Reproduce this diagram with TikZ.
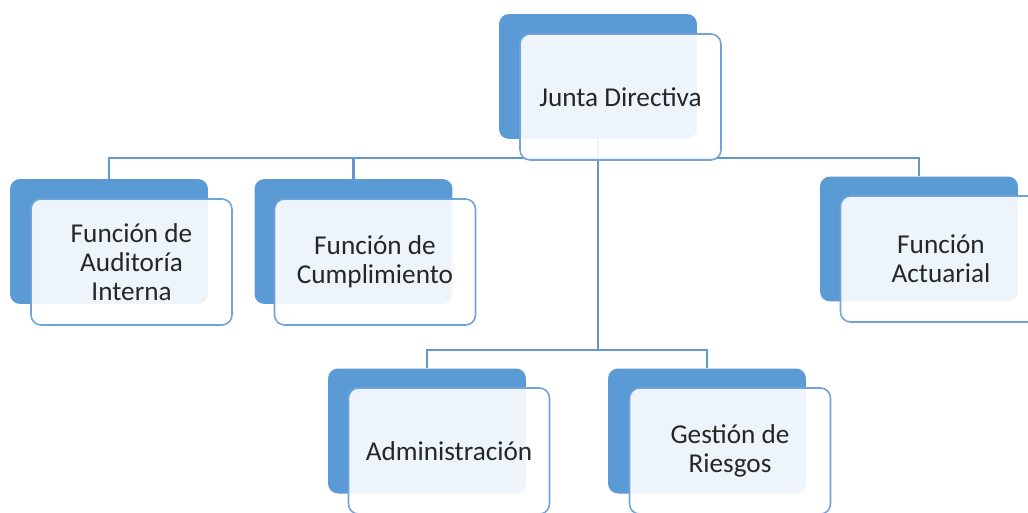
\documentclass[tikz,border=0pt]{standalone}
\usepackage{fontspec}
\setmainfont{Carlito}
\usepackage{xcolor}
\usepackage{tikz}

\definecolor{backblue}{HTML}{5B9BD5}
\definecolor{edgeblue}{HTML}{6FA3DA}
\definecolor{wireblue}{HTML}{6495CD}
\definecolor{textgray}{HTML}{262626}

\tikzset{
  backbox/.style={rectangle, fill=backblue, rounded corners=0.2cm,
    minimum width=3.96cm, minimum height=2.5cm, inner sep=0pt},
  frontbox/.style={rectangle, draw=edgeblue, line width=0.9pt, fill=white,
    fill opacity=0.9, text opacity=1, rounded corners=0.2cm,
    minimum width=4.02cm, minimum height=2.52cm, align=center, text=textgray,
    font=\fontsize{15.5}{16.5}\selectfont},
  wire/.style={draw=wireblue, line width=1.4pt}
}

\begin{document}
\begin{tikzpicture}[x=0.02cm,y=-0.02cm]
\clip (0,0) rectangle (1028,512);
% back plates
\node[backbox] (juntaB) at (598,76.5) {};
\node[backbox] (audB) at (109,241.5) {};
\node[backbox] (cumB) at (353.5,241.5) {};
\node[backbox] (actB) at (919,239) {};
\node[backbox] (admB) at (427,431) {};
\node[backbox] (gesB) at (707,431) {};
% connectors
\coordinate (busTop) at (598,158);
\coordinate (busLow) at (598,350);
\draw[wire] (juntaB.south) -- (busLow);
\draw[wire] (audB.north) |- (busTop) -| (actB.north);
\draw[wire] (cumB.north) -- (cumB.north |- busTop);
\draw[wire] (admB.north) |- (busLow) -| (gesB.north);
% front cards
\node[frontbox] (junta) at (620.5,97) {Junta Directiva};
\node[frontbox] (aud) at (131.5,262) {Función de\\Auditoría\\Interna};
\node[frontbox] (cum) at (375,262) {Función de\\Cumplimiento};
\node[frontbox] (act) at (941,259) {Función\\Actuarial};
\node[frontbox] (adm) at (449,451) {Administración};
\node[frontbox] (ges) at (730,451) {Gestión de\\Riesgos};
\end{tikzpicture}
\end{document}
